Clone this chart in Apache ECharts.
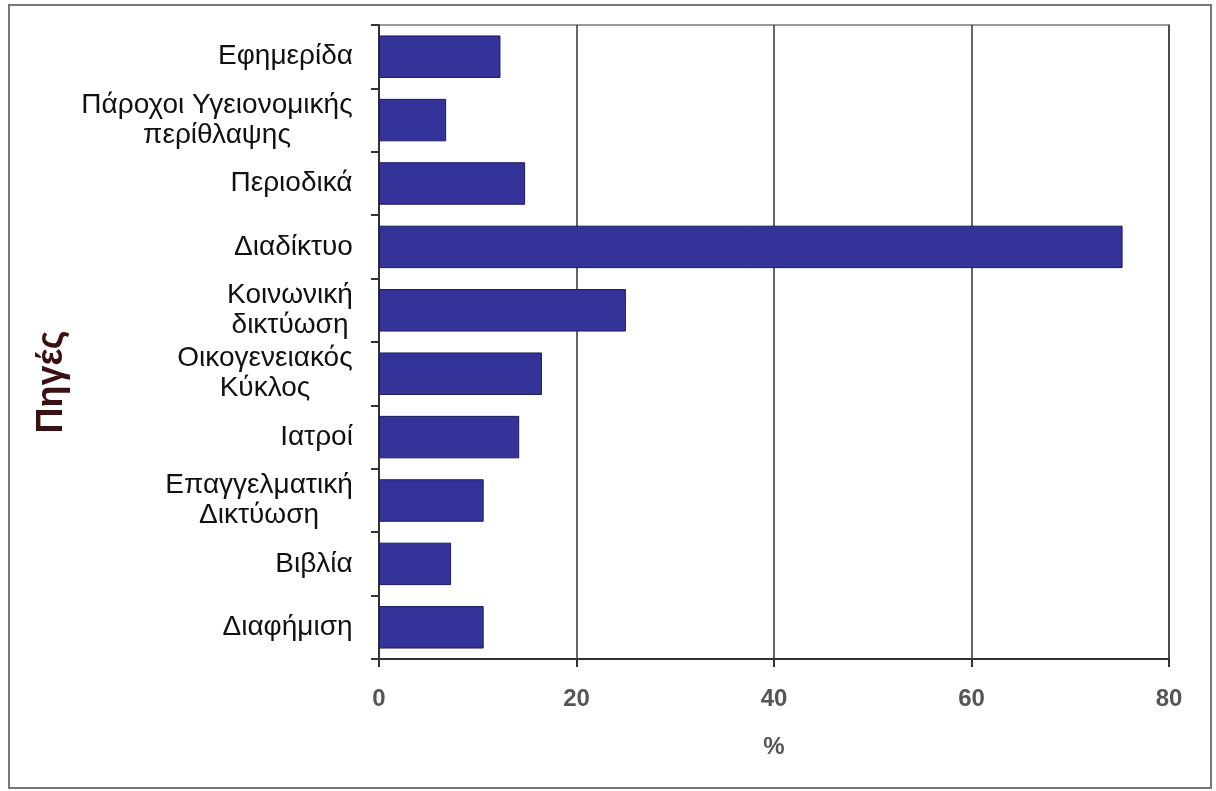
<!DOCTYPE html>
<html>
<head>
<meta charset="utf-8">
<script src="https://cdn.jsdelivr.net/npm/echarts@6/dist/echarts.min.js"></script>
<style>
html,body{margin:0;padding:0;background:#fff;}
#chart{width:1216px;height:791px;}
</style>
</head>
<body>
<div id="chart"></div>
<script>
var categories = [
  'Εφημερίδα',
  'Πάροχοι Υγειονομικής\nπερίθλαψης',
  'Περιοδικά',
  'Διαδίκτυο',
  'Κοινωνική\nδικτύωση',
  'Οικογενειακός\nΚύκλος',
  'Ιατροί',
  'Επαγγελματική\nΔικτύωση',
  'Βιβλία',
  'Διαφήμιση'
];
var values = [12.3, 6.8, 14.8, 75.3, 25.0, 16.5, 14.2, 10.6, 7.3, 10.6];
var xTicks = [0, 20, 40, 60, 80];
var yTitle = 'Πηγές';
var xTitle = '%';

var FONT = '"Liberation Sans", Arial, sans-serif';
var LABEL_SIZE = 28;
var ctx = document.createElement('canvas').getContext('2d');
ctx.font = LABEL_SIZE + 'px ' + FONT;
var rich = {};
categories.forEach(function (c, i) {
  var w = 0;
  c.split('\n').forEach(function (l) { w = Math.max(w, ctx.measureText(l).width); });
  rich['c' + i] = { width: Math.ceil(w), align: 'center', fontSize: LABEL_SIZE, lineHeight: 30,
    fontFamily: FONT, color: '#111' };
});

var chart = echarts.init(document.getElementById('chart'));
chart.setOption({
  animation: false,
  backgroundColor: '#fff',
  grid: { left: 379, right: 47, top: 25, bottom: 132, show: true, borderColor: '#9a9a9a', borderWidth: 2 },
  xAxis: {
    type: 'value', min: xTicks[0], max: xTicks[xTicks.length - 1], interval: 20,
    name: xTitle, nameLocation: 'middle', nameGap: 76,
    nameTextStyle: { fontSize: 24, fontWeight: 'bold', color: '#555', fontFamily: FONT },
    axisLine: { show: true, lineStyle: { color: '#333', width: 2 } },
    axisTick: { show: true, length: 8, lineStyle: { color: '#333', width: 2 } },
    axisLabel: { margin: 28, fontSize: 24, fontWeight: 'bold', color: '#555', fontFamily: FONT },
    splitLine: { show: true, lineStyle: { color: '#333', width: 1.5 } }
  },
  yAxis: {
    type: 'category', data: categories, inverse: true,
    name: yTitle, nameLocation: 'middle', nameRotate: 90, nameGap: 307,
    nameTextStyle: { fontSize: 36, fontWeight: 'bold', color: '#3a1010', fontFamily: FONT, padding: [0, 80, 0, 0] },
    axisLine: { show: true, lineStyle: { color: '#333', width: 2 } },
    axisTick: { show: true, length: 8, lineStyle: { color: '#333', width: 2 } },
    axisLabel: {
      margin: 26, interval: 0,
      formatter: function (v, i) {
        return v.split('\n').map(function (l) { return '{c' + i + '|' + l + '}'; }).join('\n');
      },
      rich: rich
    },
    splitLine: { show: false }
  },
  series: [{
    type: 'bar', data: values, barCategoryGap: '33%',
    itemStyle: { color: '#333399', borderColor: '#1c1c5e', borderWidth: 1 }
  }],
  graphic: [{
    type: 'rect', shape: { x: 9, y: 5, width: 1202, height: 783 },
    style: { fill: null, stroke: '#777', lineWidth: 2 }, silent: true, z: -1
  }]
});
</script>
</body>
</html>
